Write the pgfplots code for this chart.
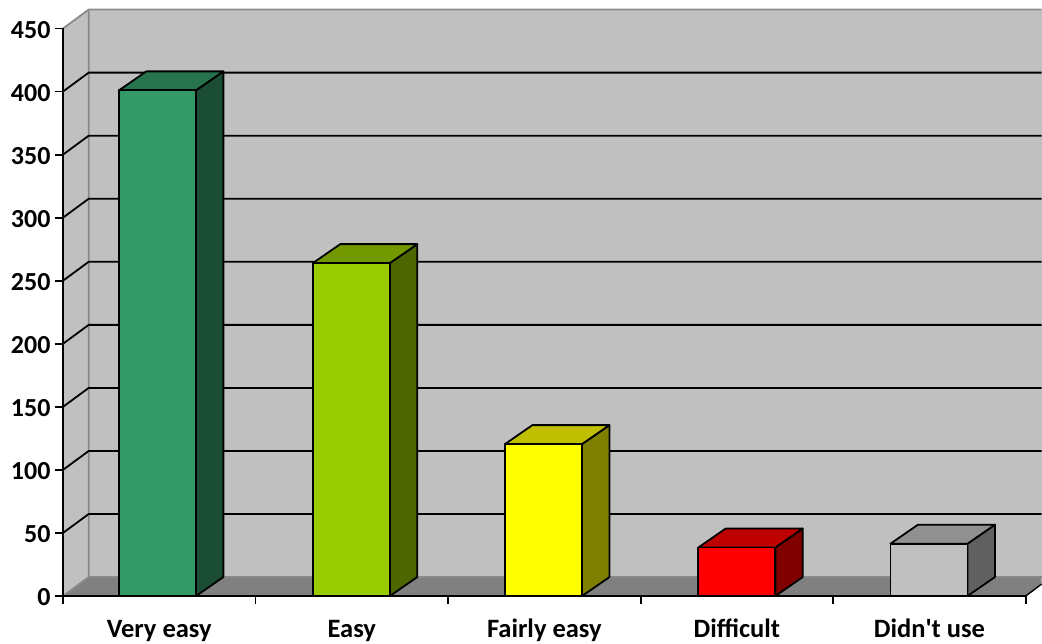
\documentclass[border=0pt]{standalone}
\usepackage{fontspec}
\setmainfont{Carlito}
\usepackage{pgfplots}
\pgfplotsset{compat=1.18}
\definecolor{wall}{HTML}{C0C0C0}
\definecolor{floorc}{HTML}{808080}
\definecolor{edgec}{HTML}{8A8A8A}
\begin{document}
\begin{tikzpicture}
\useasboundingbox (-63pt,-48pt) rectangle (979pt,596pt);
\begin{axis}[
    at={(0pt,0pt)}, anchor=south west,
    scale only axis, width=962.7pt, height=567.5pt,
    xmin=0, xmax=5, ymin=0, ymax=450,
    clip=false, axis on top,
    axis lines=left,
    axis line style={-, black, line width=1.8pt},
    tick style={black, line width=1.8pt},
    tick align=outside, major tick length=8pt,
    every axis plot/.append style={line join=round},
    xtick={0,1,2,3,4,5},
    x tick label as interval,
    xticklabels={Very easy,Easy,Fairly easy,Difficult,{Didn\textquotesingle t use}},
    ytick={0,50,...,450},
    /pgf/number format/assume math mode=true,
    tick label style={black},
    xticklabel style={font=\fontsize{26.5}{30}\selectfont\bfseries, anchor=base, yshift=-34pt},
    yticklabel style={font=\fontsize{26}{30}\selectfont\bfseries, xshift=-1pt, yshift=-1.5pt},
]
% walls and floor
\addplot[fill=wall, draw=none] coordinates {(0.1335,15) (5.083,15) (5.083,465) (0.1335,465)} -- cycle;
\addplot[fill=wall, draw=none] coordinates {(0,0) (0.1335,15) (0.1335,465) (0,450)} -- cycle;
\addplot[fill=floorc, draw=none] coordinates {(0,0) (0.1335,15) (5.083,15) (5.083,9.5) (5,0)} -- cycle;
\addplot[edgec, line width=1.8pt] coordinates {(0,450) (0.1335,465) (5.083,465)};
\addplot[edgec, line width=1.8pt] coordinates {(0,0) (0.1335,15) (0.1335,465)};
\addplot[edgec, line width=1.8pt] coordinates {(0.1335,15) (5.083,15)};
\addplot[black, line width=1.4pt] coordinates {(5,0) (5.083,9.5)};
% gridlines
\addplot[black, line width=1.8pt] coordinates {(0,50) (0.1335,65) (5.083,65)};
\addplot[black, line width=1.8pt] coordinates {(0,100) (0.1335,115) (5.083,115)};
\addplot[black, line width=1.8pt] coordinates {(0,150) (0.1335,165) (5.083,165)};
\addplot[black, line width=1.8pt] coordinates {(0,200) (0.1335,215) (5.083,215)};
\addplot[black, line width=1.8pt] coordinates {(0,250) (0.1335,265) (5.083,265)};
\addplot[black, line width=1.8pt] coordinates {(0,300) (0.1335,315) (5.083,315)};
\addplot[black, line width=1.8pt] coordinates {(0,350) (0.1335,365) (5.083,365)};
\addplot[black, line width=1.8pt] coordinates {(0,400) (0.1335,415) (5.083,415)};
% Very easy
\addplot[fill={rgb,255:red,26;green,77;blue,51}, draw=black, line width=1.8pt] coordinates {(0.691,0) (0.833,15) (0.833,416) (0.691,401)} -- cycle;
\addplot[fill={rgb,255:red,38;green,115;blue,77}, draw=black, line width=1.8pt] coordinates {(0.291,401) (0.691,401) (0.833,416) (0.433,416)} -- cycle;
\addplot[ybar, bar width=77pt, bar shift=0pt, fill={rgb,255:red,51;green,153;blue,102}, draw=black, line width=1.8pt] coordinates {(0.491,401)};
% Easy
\addplot[fill={rgb,255:red,77;green,102;blue,0}, draw=black, line width=1.8pt] coordinates {(1.698,0) (1.840,15) (1.840,279) (1.698,264)} -- cycle;
\addplot[fill={rgb,255:red,115;green,153;blue,0}, draw=black, line width=1.8pt] coordinates {(1.298,264) (1.698,264) (1.840,279) (1.440,279)} -- cycle;
\addplot[ybar, bar width=77pt, bar shift=0pt, fill={rgb,255:red,153;green,204;blue,0}, draw=black, line width=1.8pt] coordinates {(1.498,264)};
% Fairly easy
\addplot[fill={rgb,255:red,128;green,128;blue,0}, draw=black, line width=1.8pt] coordinates {(2.696,0) (2.838,15) (2.838,135.5) (2.696,120.5)} -- cycle;
\addplot[fill={rgb,255:red,191;green,191;blue,0}, draw=black, line width=1.8pt] coordinates {(2.296,120.5) (2.696,120.5) (2.838,135.5) (2.438,135.5)} -- cycle;
\addplot[ybar, bar width=77pt, bar shift=0pt, fill={rgb,255:red,255;green,255;blue,0}, draw=black, line width=1.8pt] coordinates {(2.496,120.5)};
% Difficult
\addplot[fill={rgb,255:red,128;green,0;blue,0}, draw=black, line width=1.8pt] coordinates {(3.700,0) (3.842,15) (3.842,53.5) (3.700,38.5)} -- cycle;
\addplot[fill={rgb,255:red,191;green,0;blue,0}, draw=black, line width=1.8pt] coordinates {(3.300,38.5) (3.700,38.5) (3.842,53.5) (3.442,53.5)} -- cycle;
\addplot[ybar, bar width=77pt, bar shift=0pt, fill={rgb,255:red,255;green,0;blue,0}, draw=black, line width=1.8pt] coordinates {(3.500,38.5)};
% Didn't use
\addplot[fill={rgb,255:red,96;green,96;blue,96}, draw=black, line width=1.8pt] coordinates {(4.698,0) (4.840,15) (4.840,56.5) (4.698,41.5)} -- cycle;
\addplot[fill={rgb,255:red,144;green,144;blue,144}, draw=black, line width=1.8pt] coordinates {(4.298,41.5) (4.698,41.5) (4.840,56.5) (4.440,56.5)} -- cycle;
\addplot[ybar, bar width=77pt, bar shift=0pt, fill={rgb,255:red,192;green,192;blue,192}, draw=black, line width=1.8pt] coordinates {(4.498,41.5)};
\end{axis}
\end{tikzpicture}
\end{document}
